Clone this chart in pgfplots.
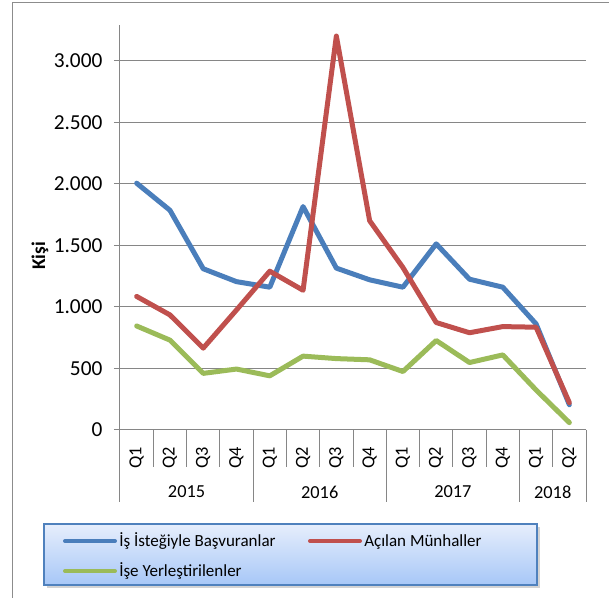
\documentclass[border=0pt]{standalone}
\usepackage{pgfplots}
\pgfplotsset{compat=1.18}
\usepackage{fontspec}
\setmainfont{Carlito}
\usetikzlibrary{shadows}
\definecolor{sBlue}{RGB}{74,126,187}
\definecolor{sRed}{RGB}{192,80,77}
\definecolor{sGreen}{RGB}{155,187,89}
\definecolor{gridc}{RGB}{134,134,134}
\definecolor{frame}{RGB}{140,140,140}
\definecolor{legTop}{RGB}{230,238,252}
\definecolor{legBot}{RGB}{167,199,247}
\definecolor{legBorder}{RGB}{79,129,189}
\begin{document}
\begin{tikzpicture}
\useasboundingbox (-90pt,-126pt) rectangle (366.75pt,322.5pt);
% outer chart frame (partly visible)
\draw[frame, line width=0.75pt] (-80.25pt,-126pt) -- (-80.25pt,320.25pt) -- (366.75pt,320.25pt);
\begin{axis}[
  at={(0,0)}, anchor=south west,
  scale only axis, width=349.5pt, height=303.75pt,
  xmin=0.5, xmax=14.5, ymin=0, ymax=3290,
  axis x line*=bottom, axis y line*=left,
  axis line style={gridc, line width=0.75pt},
  clip=false,
  ytick={0,500,1000,1500,2000,2500,3000},
  yticklabels={0,500,1.000,1.500,2.000,2.500,3.000},
  ymajorgrids, grid style={gridc, line width=0.75pt},
  xtick={1,...,14},
  xticklabels={Q1,Q2,Q3,Q4,Q1,Q2,Q3,Q4,Q1,Q2,Q3,Q4,Q1,Q2},
  xtick style={draw=none},
  ytick style={gridc, line width=0.75pt},
  tick align=outside, major tick length=4.5pt,
  yticklabel style={font=\fontsize{16}{19}\selectfont, anchor=east, inner sep=0pt, xshift=-8.5pt},
  xticklabel style={font=\fontsize{13.75}{16}\selectfont, rotate=90, anchor=east, inner xsep=8pt, inner ysep=0pt},
  ylabel={Kişi},
  ylabel style={at={(axis description cs:-0.1717,0.43)}, anchor=center, font=\bfseries\fontsize{14.5}{17}\selectfont},
  every axis plot/.append style={line width=3.75pt, line cap=round, line join=round, mark=none},
]
\addplot[sBlue] coordinates {(1,2005) (2,1785) (3,1310) (4,1205) (5,1160) (6,1815) (7,1315) (8,1220) (9,1160) (10,1512) (11,1225) (12,1160) (13,862) (14,205)};
\addplot[sRed] coordinates {(1,1085) (2,935) (3,665) (4,975) (5,1290) (6,1135) (7,3200) (8,1700) (9,1320) (10,873) (11,790) (12,840) (13,835) (14,222)};
\addplot[sGreen] coordinates {(1,845) (2,730) (3,460) (4,495) (5,440) (6,600) (7,580) (8,570) (9,475) (10,727) (11,548) (12,610) (13,325) (14,60)};
\pgfplotsinvokeforeach{0.5,1.5,...,14.5}{
  \draw[gridc, line width=0.75pt] (axis cs:#1,0) -- ([yshift=-27.75pt]axis cs:#1,0);
}
\pgfplotsinvokeforeach{0.5,4.5,8.5,12.5,14.5}{
  \draw[gridc, line width=0.75pt] (axis cs:#1,0) -- ([yshift=-54pt]axis cs:#1,0);
}
\node[font=\fontsize{13.75}{16}\selectfont] at ([yshift=-46.5pt]axis cs:2.5,0) {2015};
\node[font=\fontsize{13.75}{16}\selectfont] at ([yshift=-46.5pt]axis cs:6.5,0) {2016};
\node[font=\fontsize{13.75}{16}\selectfont] at ([yshift=-46.5pt]axis cs:10.5,0) {2017};
\node[font=\fontsize{13.75}{16}\selectfont] at ([yshift=-46.5pt]axis cs:13.5,0) {2018};
\end{axis}
% legend
\draw[legBorder, line width=0.9pt, top color=legTop, bottom color=legBot,
      drop shadow={shadow xshift=2pt, shadow yshift=-2pt, opacity=0.35}]
  (-57pt,-70.5pt) rectangle (312.75pt,-116.25pt);
\draw[sBlue, line width=3pt, line cap=round] (-41.25pt,-83.25pt) -- (-3.75pt,-83.25pt);
\node[anchor=base west, inner sep=0pt, font=\fontsize{12.75}{15}\selectfont] at (-0.75pt,-87pt) {İş İsteğiyle Başvuranlar};
\draw[sRed, line width=3pt, line cap=round] (142.5pt,-83.25pt) -- (180pt,-83.25pt);
\node[anchor=base west, inner sep=0pt, font=\fontsize{12.75}{15}\selectfont] at (183pt,-87pt) {Açılan Münhaller};
\draw[sGreen, line width=3pt, line cap=round] (-41.25pt,-105.75pt) -- (-3.75pt,-105.75pt);
\node[anchor=base west, inner sep=0pt, font=\fontsize{12.75}{15}\selectfont] at (-0.75pt,-109.5pt) {İşe Yerleştirilenler};
\end{tikzpicture}
\end{document}
